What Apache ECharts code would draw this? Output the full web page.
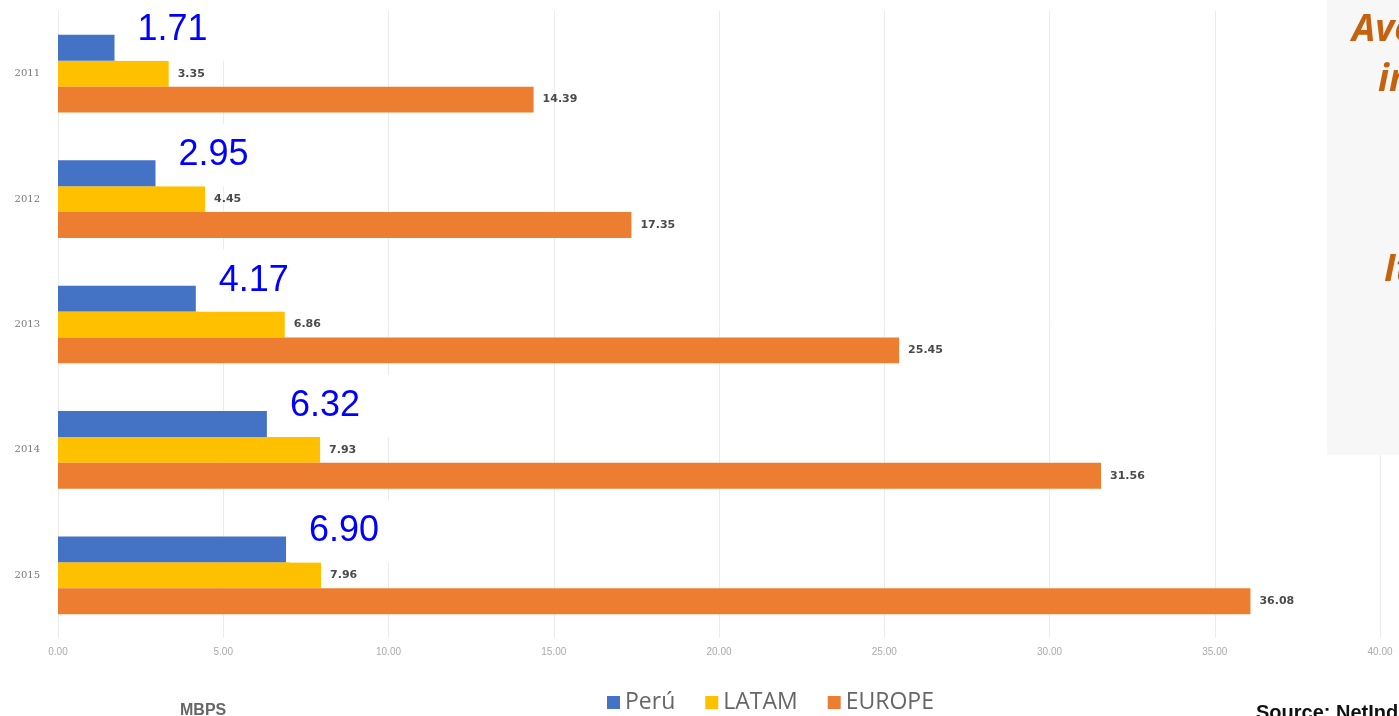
<!DOCTYPE html>
<html>
<head>
<meta charset="utf-8">
<script src="https://cdn.jsdelivr.net/npm/echarts@6/dist/echarts.min.js"></script>
<style>
  html, body { margin: 0; padding: 0; background: #fff; }
  #charts { width: 1399px; height: 716px; }
</style>
</head>
<body>
<div id="charts"></div>
<script>
// 数据
var years = ['2011', '2012', '2013', '2014', '2015'];
var peru = [1.71, 2.95, 4.17, 6.32, 6.90];
var latam = [3.35, 4.45, 6.86, 7.93, 7.96];
var europe = [14.39, 17.35, 25.45, 31.56, 36.08];
var xTicks = [0, 5, 10, 15, 20, 25, 30, 35, 40];

var myChart = echarts.init(document.getElementById('charts'));

var smallLabel = {
  show: true,
  position: 'right',
  distance: 9,
  fontSize: 11,
  fontWeight: 'bold',
  color: '#4a4a4a',
  fontFamily: 'DejaVu Sans',
  formatter: function (p) { return p.value.toFixed(2); }
};

var option = {
  backgroundColor: '#fff',
  animation: false,
  grid: {
    left: 58,
    right: 19,
    top: 11,
    bottom: 78
  },
  legend: {
    data: ['Perú', 'LATAM', 'EUROPE'],
    left: 607,
    top: 691,
    padding: 0,
    itemWidth: 13,
    itemHeight: 13,
    itemGap: 30,
    icon: 'rect',
    textStyle: {
      fontSize: 23,
      color: '#666',
      fontFamily: 'Open Sans'
    }
  },
  xAxis: {
    type: 'value',
    min: xTicks[0],
    max: xTicks[xTicks.length - 1],
    interval: 5,
    axisLine: { show: false },
    axisTick: { show: false },
    splitLine: { lineStyle: { color: '#ebebeb' } },
    axisLabel: {
      margin: 9,
      fontSize: 10,
      color: '#aaa',
      fontFamily: 'Liberation Sans',
      formatter: function (v) { return v.toFixed(2); }
    }
  },
  yAxis: {
    type: 'category',
    inverse: true,
    data: years,
    axisLine: { show: false },
    axisTick: { show: false },
    axisLabel: {
      margin: 18,
      fontSize: 10,
      color: '#777',
      fontFamily: 'DejaVu Serif'
    }
  },
  series: [
    {
      name: 'Perú',
      type: 'bar',
      barGap: '0%',
      barCategoryGap: '38%',
      itemStyle: { color: '#4472C4' },
      label: {
        show: true,
        position: 'right',
        distance: 3,
        offset: [0, -18],
        fontSize: 36,
        lineHeight: 36,
        color: '#0000ff',
        fontFamily: 'Liberation Sans',
        backgroundColor: '#fff',
        padding: [13, 30, 13, 20],
        formatter: function (p) { return p.value.toFixed(2); }
      },
      z: 3,
      data: peru
    },
    {
      name: 'LATAM',
      type: 'bar',
      itemStyle: { color: '#FFC000' },
      label: smallLabel,
      data: latam
    },
    {
      name: 'EUROPE',
      type: 'bar',
      itemStyle: { color: '#ED7D31' },
      label: smallLabel,
      data: europe
    }
  ],
  graphic: [
    {
      type: 'rect',
      left: 1327,
      top: 0,
      shape: { width: 80, height: 455 },
      style: { fill: '#f7f7f7' },
      z: 10
    },
    {
      type: 'text',
      left: 1352,
      top: 12,
      style: {
        text: 'Average Internet speed',
        fontSize: 37,
        fontWeight: 'bold',
        fontStyle: 'italic',
        fontFamily: 'Open Sans',
        fill: '#C5620F'
      },
      z: 11
    },
    {
      type: 'text',
      left: 1378,
      top: 62,
      style: {
        text: 'in Perú',
        fontSize: 37,
        fontWeight: 'bold',
        fontStyle: 'italic',
        fontFamily: 'Open Sans',
        fill: '#C5620F'
      },
      z: 11
    },
    {
      type: 'text',
      left: 1384,
      top: 252,
      style: {
        text: 'It has grown',
        fontSize: 37,
        fontWeight: 'bold',
        fontStyle: 'italic',
        fontFamily: 'Open Sans',
        fill: '#C5620F'
      },
      z: 11
    },
    {
      type: 'text',
      left: 180,
      top: 703,
      style: {
        text: 'MBPS',
        fontSize: 16,
        fontWeight: 'bold',
        fontFamily: 'Liberation Sans',
        fill: '#666'
      }
    },
    {
      type: 'text',
      left: 1256,
      top: 703,
      style: {
        text: 'Source: NetIndex',
        fontSize: 20,
        fontWeight: 'bold',
        fontFamily: 'Liberation Sans',
        fill: '#111'
      }
    }
  ]
};

myChart.setOption(option);
</script>
</body>
</html>
